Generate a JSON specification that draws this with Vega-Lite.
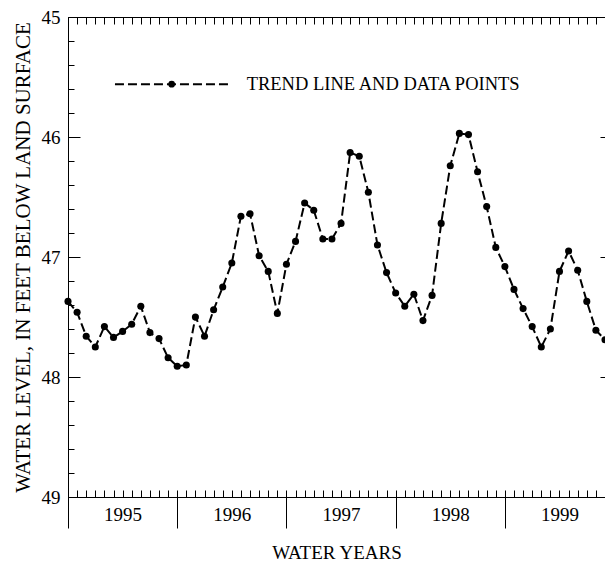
{
  "$schema": "https://vega.github.io/schema/vega-lite/v6.json",
  "width": 537,
  "height": 480,
  "autosize": {"type": "none"},
  "padding": {"left": 68, "top": 17, "right": 0, "bottom": 66},
  "background": "white",
  "config": {
    "view": {"stroke": null},
    "axis": {
      "grid": false,
      "domainColor": "black",
      "domainWidth": 1,
      "tickColor": "black",
      "tickWidth": 1,
      "labelColor": "black",
      "titleColor": "black",
      "labelFont": "Liberation Serif",
      "titleFont": "Liberation Serif",
      "labelFontSize": 19,
      "titleFontSize": 19,
      "labelFontWeight": "normal",
      "titleFontWeight": "normal",
      "labelFlush": false,
      "labelOverlap": false,
      "labelBound": false
    }
  },
  "data": {
    "values": [
      {"month": 0, "level": 47.37}, {"month": 1, "level": 47.46}, {"month": 2, "level": 47.66},
      {"month": 3, "level": 47.75}, {"month": 4, "level": 47.58}, {"month": 5, "level": 47.67},
      {"month": 6, "level": 47.62}, {"month": 7, "level": 47.56}, {"month": 8, "level": 47.41},
      {"month": 9, "level": 47.63}, {"month": 10, "level": 47.68}, {"month": 11, "level": 47.84},
      {"month": 12, "level": 47.91}, {"month": 13, "level": 47.90}, {"month": 14, "level": 47.50},
      {"month": 15, "level": 47.66}, {"month": 16, "level": 47.44}, {"month": 17, "level": 47.25},
      {"month": 18, "level": 47.05}, {"month": 19, "level": 46.66}, {"month": 20, "level": 46.64},
      {"month": 21, "level": 46.99}, {"month": 22, "level": 47.12}, {"month": 23, "level": 47.47},
      {"month": 24, "level": 47.06}, {"month": 25, "level": 46.87}, {"month": 26, "level": 46.55},
      {"month": 27, "level": 46.61}, {"month": 28, "level": 46.85}, {"month": 29, "level": 46.85},
      {"month": 30, "level": 46.72}, {"month": 31, "level": 46.13}, {"month": 32, "level": 46.16},
      {"month": 33, "level": 46.46}, {"month": 34, "level": 46.90}, {"month": 35, "level": 47.13},
      {"month": 36, "level": 47.30}, {"month": 37, "level": 47.41}, {"month": 38, "level": 47.31},
      {"month": 39, "level": 47.53}, {"month": 40, "level": 47.32}, {"month": 41, "level": 46.72},
      {"month": 42, "level": 46.24}, {"month": 43, "level": 45.97}, {"month": 44, "level": 45.98},
      {"month": 45, "level": 46.29}, {"month": 46, "level": 46.58}, {"month": 47, "level": 46.92},
      {"month": 48, "level": 47.08}, {"month": 49, "level": 47.27}, {"month": 50, "level": 47.43},
      {"month": 51, "level": 47.58}, {"month": 52, "level": 47.75}, {"month": 53, "level": 47.60},
      {"month": 54, "level": 47.12}, {"month": 55, "level": 46.95}, {"month": 56, "level": 47.11},
      {"month": 57, "level": 47.37}, {"month": 58, "level": 47.61}, {"month": 59, "level": 47.69}
    ]
  },
  "resolve": {"axis": {"x": "independent", "y": "independent"}},
  "layer": [
    {
      "mark": {"type": "line", "color": "black", "strokeWidth": 2, "strokeDash": [9, 4]},
      "encoding": {
        "x": {
          "field": "month", "type": "quantitative",
          "scale": {"domain": [0, 59], "nice": false, "zero": false},
          "axis": {
            "orient": "bottom",
            "values": [0,1,2,3,4,5,6,7,8,9,10,11,12,13,14,15,16,17,18,19,20,21,22,23,24,25,26,27,28,29,30,31,32,33,34,35,36,37,38,39,40,41,42,43,44,45,46,47,48,49,50,51,52,53,54,55,56,57,58,59],
            "labels": false, "tickSize": -7, "domain": true, "title": null
          }
        },
        "y": {
          "field": "level", "type": "quantitative",
          "scale": {"domain": [45, 49], "reverse": true, "nice": false, "zero": false},
          "axis": {
            "orient": "left",
            "values": [45, 46, 47, 48, 49],
            "format": "d",
            "ticks": false, "labelPadding": 8, "domain": true,
            "title": "WATER LEVEL, IN FEET BELOW LAND SURFACE",
            "titleFontSize": 21, "titlePadding": 8
          }
        }
      }
    },
    {
      "mark": {"type": "point", "filled": true, "color": "black", "size": 50, "opacity": 1},
      "encoding": {
        "x": {
          "field": "month", "type": "quantitative",
          "scale": {"domain": [0, 59], "nice": false, "zero": false},
          "axis": {"orient": "bottom", "values": [0, 12, 24, 36, 48], "labels": false, "tickSize": 31, "domain": false, "title": null}
        },
        "y": {
          "field": "level", "type": "quantitative",
          "scale": {"domain": [45, 49], "reverse": true, "nice": false, "zero": false},
          "axis": {
            "orient": "left",
            "values": [45, 45.2, 45.4, 45.6, 45.8, 46, 46.2, 46.4, 46.6, 46.8, 47, 47.2, 47.4, 47.6, 47.8, 48, 48.2, 48.4, 48.6, 48.8, 49],
            "labels": false, "tickSize": -6, "domain": false, "title": null
          }
        }
      }
    },
    {
      "mark": {"type": "point", "opacity": 0},
      "encoding": {
        "x": {
          "field": "month", "type": "quantitative",
          "scale": {"domain": [0, 59], "nice": false, "zero": false},
          "axis": {
            "orient": "bottom", "values": [6, 18, 30, 42, 54],
            "labelExpr": "'' + (1995 + floor(datum.value / 12))",
            "ticks": false, "domain": false, "labelPadding": 8,
            "title": "WATER YEARS", "titlePadding": 19
          }
        },
        "y": {
          "field": "level", "type": "quantitative",
          "scale": {"domain": [45, 49], "reverse": true, "nice": false, "zero": false},
          "axis": {"orient": "left", "values": [45, 46, 47, 48, 49], "labels": false, "tickSize": -12, "domain": false, "title": null}
        }
      }
    },
    {
      "mark": {"type": "point", "opacity": 0},
      "encoding": {
        "x": {
          "field": "month", "type": "quantitative",
          "scale": {"domain": [0, 59], "nice": false, "zero": false},
          "axis": {
            "orient": "top",
            "values": [0,1,2,3,4,5,6,7,8,9,10,11,12,13,14,15,16,17,18,19,20,21,22,23,24,25,26,27,28,29,30,31,32,33,34,35,36,37,38,39,40,41,42,43,44,45,46,47,48,49,50,51,52,53,54,55,56,57,58,59],
            "labels": false, "tickSize": -7, "domain": true, "title": null
          }
        },
        "y": {
          "field": "level", "type": "quantitative",
          "scale": {"domain": [45, 49], "reverse": true, "nice": false, "zero": false},
          "axis": {"orient": "right", "values": [45, 46, 47, 48, 49], "labels": false, "tickSize": -5, "domain": false, "title": null}
        }
      }
    },
    {
      "data": {"values": [{"month": 5.16, "level": 45.56}, {"month": 17.58, "level": 45.56}]},
      "mark": {"type": "line", "color": "black", "strokeWidth": 2, "strokeDash": [9, 4]},
      "encoding": {
        "x": {"field": "month", "type": "quantitative", "scale": {"domain": [0, 59], "nice": false, "zero": false}, "axis": null},
        "y": {"field": "level", "type": "quantitative", "scale": {"domain": [45, 49], "reverse": true, "nice": false, "zero": false}, "axis": null}
      }
    },
    {
      "data": {"values": [{"month": 11.39, "level": 45.56}]},
      "mark": {"type": "point", "filled": true, "color": "black", "size": 45, "opacity": 1},
      "encoding": {
        "x": {"field": "month", "type": "quantitative", "scale": {"domain": [0, 59], "nice": false, "zero": false}, "axis": null},
        "y": {"field": "level", "type": "quantitative", "scale": {"domain": [45, 49], "reverse": true, "nice": false, "zero": false}, "axis": null}
      }
    },
    {
      "data": {"values": [{"month": 19.63, "level": 45.56, "label": "TREND LINE AND DATA POINTS"}]},
      "mark": {"type": "text", "align": "left", "baseline": "middle", "font": "Liberation Serif", "fontSize": 18.5, "color": "black"},
      "encoding": {
        "x": {"field": "month", "type": "quantitative", "scale": {"domain": [0, 59], "nice": false, "zero": false}, "axis": null},
        "y": {"field": "level", "type": "quantitative", "scale": {"domain": [45, 49], "reverse": true, "nice": false, "zero": false}, "axis": null},
        "text": {"field": "label"}
      }
    }
  ]
}
